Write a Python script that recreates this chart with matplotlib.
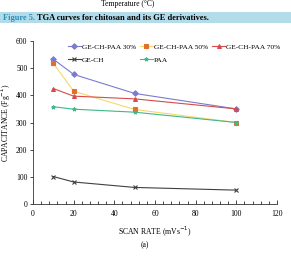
import matplotlib.pyplot as plt
from matplotlib.patches import Rectangle

plt.rcParams['font.family'] = ['Liberation Serif', 'DejaVu Serif']

scan_rate = [10, 20, 50, 100]
cap_30 = [533, 477, 407, 350]
cap_50 = [518, 415, 348, 300]
cap_70 = [425, 397, 387, 350]
cap_ch = [101, 81, 61, 51]
cap_paa = [358, 349, 338, 300]

W, H = 291, 278
fig = plt.figure(figsize=(W / 100, H / 100), dpi=100)

# bits of the page around the chart
fig.text(128 / W, 1 - 4 / H, 'Temperature (\u00b0C)', ha='center', va='center', fontsize=5.5)
fig.patches.append(Rectangle((0, 1 - 23 / H), 1, 11 / H, transform=fig.transFigure,
                             facecolor='#b3dcea', edgecolor='none', zorder=0))
fig.text(3 / W, 1 - 17.5 / H, 'Figure 5.', ha='left', va='center', fontsize=6,
         color='#2a8fb5', fontweight='bold')
fig.text(37 / W, 1 - 17.5 / H, 'TGA curves for chitosan and its GE derivatives.',
         ha='left', va='center', fontsize=6, fontweight='bold')

ax = fig.add_axes([33 / W, 1 - 204 / H, 244 / W, 163 / H])

series = [
    (cap_30, 'GE-CH-PAA 30%', '#7b7bd0', '#7b7bd0', 'D'),
    (cap_ch, 'GE-CH', '#404040', '#404040', 'x'),
    (cap_50, 'GE-CH-PAA 50%', '#f5d76e', '#e0702a', 's'),
    (cap_paa, 'PAA', '#3fb88a', '#3fb88a', '*'),
    (cap_70, 'GE-CH-PAA 70%', '#d84a4a', '#d84a4a', '^'),
]
for vals, name, lc, mc, mk in series:
    ax.plot(scan_rate, vals, color=lc, lw=0.8, marker=mk, ms=2.8,
            mfc=mc, mec=mc, mew=0.8, label=name)

ax.set_xlim(0, 120)
ax.set_ylim(0, 600)
ax.set_xticks(range(0, 121, 20))
ax.set_xticks(range(0, 121, 4), minor=True)
ax.set_yticks(range(0, 601, 100))
ax.spines['top'].set_visible(False)
ax.spines['right'].set_visible(False)
for s in ['left', 'bottom']:
    ax.spines[s].set_linewidth(0.6)
    ax.spines[s].set_color('#333333')
ax.tick_params(axis='y', labelsize=5.5, length=2, width=0.5, pad=2)
ax.tick_params(axis='x', which='both', direction='in', labelsize=5.5, width=0.5, pad=4)
ax.tick_params(axis='x', which='major', length=3)
ax.tick_params(axis='x', which='minor', length=2)
ax.set_ylabel('CAPACITANCE (Fg$^{-1}$)', fontsize=5.5, labelpad=2)
ax.set_xlabel('SCAN RATE (mVs$^{-1}$)', fontsize=5.5, labelpad=5)
fig.text(145 / W, 1 - 245 / H, '(a)', ha='center', va='center', fontsize=5.5)

ax.legend(loc='upper left', bbox_to_anchor=(64 / W, 1 - 40 / H), bbox_transform=fig.transFigure,
          ncol=3, frameon=False, fontsize=5.3, handlelength=1.8, handletextpad=0.15,
          columnspacing=0.5, labelspacing=0.9, borderpad=0)

fig.savefig('out.png', dpi=100, facecolor='white')
